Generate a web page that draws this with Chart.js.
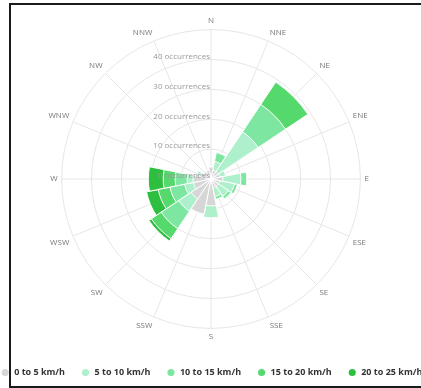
<!DOCTYPE html>
<html>
<head>
<meta charset="utf-8">
<script src="https://cdn.jsdelivr.net/npm/chart.js@4"></script>
<style>
  html, body { margin: 0; padding: 0; background: #fff; overflow: hidden; }
  body { width: 421px; height: 388px; position: relative; }
  #rose { position: absolute; left: -20px; top: 0; }
  #frame { position: absolute; left: 9px; top: 3px; width: 460px; height: 381px; border: 2px solid #1a1a1a; pointer-events: none; }
</style>
</head>
<body>
<canvas id="rose" width="463" height="387"></canvas>
<div id="frame"></div>
<script>
const directions = ['N', 'NNE', 'NE', 'ENE', 'E', 'ESE', 'SE', 'SSE', 'S', 'SSW', 'SW', 'WSW', 'W', 'WNW', 'NW', 'NNW'];

// occurrences per direction, one array per speed band
const band0to5   = [4, 3, 3, 3, 4, 3, 3, 3, 9, 12, 8, 6, 6, 4, 3, 3];
const band5to10  = [0, 3, 16, 2, 6, 5, 4, 3, 4, 0, 5, 3, 2, 1, 0, 0];
const band10to15 = [0, 3, 11, 0, 2, 1, 1, 1, 0, 0, 7, 5, 4, 0, 0, 0];
const band15to20 = [0, 0, 9, 0, 0, 0, 0, 0, 0, 0, 4, 4, 4, 0, 0, 0];
const band20to25 = [0, 0, 0, 0, 0, 0, 0, 0, 0, 0, 1, 4, 5, 0, 0, 0];

const bandLabels = ['0 to 5 km/h', '5 to 10 km/h', '10 to 15 km/h', '15 to 20 km/h', '20 to 25 km/h'];
const bandColors = ['#d6d6d6', '#aef0cb', '#7de6a0', '#55d86c', '#2fbf40'];

const ringValues = [0, 10, 20, 30, 40];
const axisMax = 50;

const bands = [band0to5, band5to10, band10to15, band15to20, band20to25];

// polar area can't stack, so each band is drawn as the running total;
// dataset 0 is painted last and sits on top
let running = directions.map(() => 0);
const datasets = bands.map((band, b) => {
    running = running.map((v, i) => v + band[i]);
    return {
        label: bandLabels[b],
        data: running.slice(),
        backgroundColor: bandColors[b],
        borderColor: '#ffffff',
        borderWidth: 1
    };
});

const labelFont = { family: '"Open Sans", "DejaVu Sans", sans-serif', size: 8 };

// "N occurrences" labels, right-aligned on the vertical axis, over the wedges
const ringLabels = {
    id: 'ringLabels',
    afterDatasetsDraw(chart) {
        const scale = chart.scales.r;
        const ctx = chart.ctx;
        ctx.save();
        ctx.font = '8px "Open Sans", "DejaVu Sans", sans-serif';
        ctx.fillStyle = '#999999';
        ctx.textAlign = 'right';
        ctx.textBaseline = 'middle';
        ringValues.forEach(v => {
            const r = scale.getDistanceFromCenterForValue(v);
            ctx.fillText(v + ' occurrences', scale.xCenter - 1, scale.yCenter - r - 3);
        });
        ctx.restore();
    }
};

new Chart(document.getElementById('rose'), {
    type: 'polarArea',
    data: { labels: directions, datasets },
    options: {
        responsive: false,
        animation: false,
        layout: { padding: { top: 16 } },
        plugins: {
            tooltip: { enabled: false },
            legend: {
                position: 'bottom',
                title: { display: true, text: '', padding: 0, font: { size: 8 } },
                labels: {
                    usePointStyle: true,
                    pointStyle: 'circle',
                    boxHeight: 5,
                    boxWidth: 9,
                    padding: 16,
                    color: '#333333',
                    font: { family: '"Open Sans", "DejaVu Sans", sans-serif', size: 9, weight: 'bold' },
                    generateLabels: chart => chart.data.datasets.map((ds, i) => ({
                        text: ds.label,
                        fillStyle: ds.backgroundColor,
                        strokeStyle: ds.backgroundColor,
                        lineWidth: 0,
                        pointStyle: 'circle',
                        fontColor: '#333333',
                        datasetIndex: i
                    }))
                }
            }
        },
        scales: {
            // value axis: wedges are centred on their direction
            r: {
                min: 0,
                max: axisMax,
                startAngle: -11.25,
                ticks: { display: false, stepSize: 10 },
                grid: { circular: true, color: '#e6e6e6' },
                angleLines: { display: false },
                pointLabels: { display: true, centerPointLabels: true, color: 'rgba(0,0,0,0)', font: labelFont, padding: 4 }
            },
            // direction axis: spokes and compass labels
            rDir: {
                type: 'radialLinear',
                axis: 'r',
                min: 0,
                max: axisMax,
                startAngle: 0,
                ticks: { display: false, stepSize: 10 },
                grid: { display: false },
                angleLines: { display: true, color: '#e6e6e6' },
                pointLabels: { display: true, color: '#777777', font: labelFont, padding: 4 }
            }
        }
    },
    plugins: [ringLabels]
});
</script>
</body>
</html>
